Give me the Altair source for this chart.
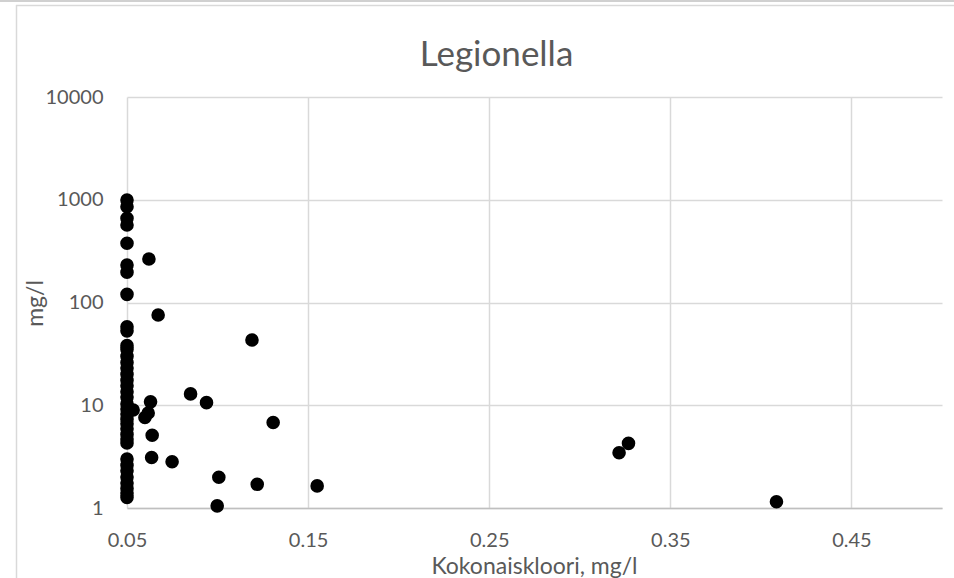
import altair as alt
import pandas as pd

# Total chlorine (mg/l) and Legionella (mg/l) for each sample
kokonaiskloori = [
    0.05, 0.05, 0.05, 0.05, 0.05, 0.05, 0.05, 0.05, 0.05, 0.05,
    0.05, 0.05, 0.05, 0.05, 0.05, 0.05, 0.05, 0.05, 0.05, 0.05,
    0.05, 0.05, 0.05, 0.05, 0.05, 0.05, 0.05, 0.05, 0.05, 0.05,
    0.05, 0.05, 0.05, 0.05, 0.05, 0.05, 0.05,
    0.0534, 0.0621, 0.0672, 0.119, 0.0851, 0.0939, 0.063, 0.0599,
    0.0617, 0.1307, 0.0639, 0.0636, 0.0749, 0.1007, 0.1219, 0.0998,
    0.155, 0.3217, 0.3269, 0.4086,
]
legionella = [
    995, 856, 660, 568, 377, 232, 197, 120, 58, 53,
    38, 35, 30, 26, 23, 20, 17.5, 15.5, 13.5, 12,
    10.3, 9.2, 8.2, 7.3, 6.6, 5.9, 5.2, 4.7, 4.3, 3.0,
    2.6, 2.3, 2.0, 1.75, 1.55, 1.4, 1.27,
    9.0, 265, 75.5, 43.2, 12.9, 10.6, 10.8, 7.6,
    8.4, 6.8, 5.1, 3.1, 2.82, 1.99, 1.7, 1.05,
    1.64, 3.45, 4.26, 1.15,
]

x_ticks = [0.05, 0.15, 0.25, 0.35, 0.45]
y_ticks = [1, 10, 100, 1000, 10000]

FONT = "Lato"
TEXT = "#595959"
GRID = "#d9d9d9"

df = pd.DataFrame({"kloori": kokonaiskloori, "legionella": legionella})

points = alt.Chart(df).mark_circle(size=185, color="black", opacity=1).encode(
    x=alt.X(
        "kloori:Q",
        scale=alt.Scale(domain=[0.05, 0.5], nice=False, zero=False),
        axis=alt.Axis(
            values=x_ticks,
            format=".2f",
            title="Kokonaiskloori, mg/l",
            titleFont=FONT,
            titleFontSize=23,
            titleFontWeight="normal",
            titleColor=TEXT,
            titleX=407,
            titleY=58,
            titleBaseline="middle",
            titleAlign="center",
            labelFont=FONT,
            labelFontSize=20,
            labelColor=TEXT,
            labelPadding=22,
            labelFlush=False,
            ticks=False,
            tickSize=0,
            domainColor="#bfbfbf",
            domainWidth=1.5,
            gridColor=GRID,
            gridWidth=1.5,
        ),
    ),
    y=alt.Y(
        "legionella:Q",
        scale=alt.Scale(type="log", domain=[1, 10000], nice=False),
        axis=alt.Axis(
            values=y_ticks,
            format="d",
            title="mg/l",
            titleFont=FONT,
            titleFontSize=23,
            titleFontWeight="normal",
            titleColor=TEXT,
            titleAngle=-90,
            titleX=-92,
            titleY=206,
            titleBaseline="middle",
            titleAlign="center",
            labelFont=FONT,
            labelFontSize=20,
            labelColor=TEXT,
            labelPadding=24,
            labelFlush=False,
            ticks=False,
            tickSize=0,
            domain=False,
            gridColor=GRID,
            gridWidth=1.5,
        ),
    ),
)

# Chart-area frame lines around the plot
frame_top = alt.Chart().mark_rule(color=GRID, strokeWidth=1.5).encode(
    x=alt.value(-111), x2=alt.value(840), y=alt.value(-91.5)
)
frame_left = alt.Chart().mark_rule(color=GRID, strokeWidth=1.5).encode(
    x=alt.value(-110.5), y=alt.value(-92), y2=alt.value(490)
)
band_top = alt.Chart().mark_rule(color="#d0d0d0", strokeWidth=2).encode(
    x=alt.value(-127), x2=alt.value(840), y=alt.value(-96)
)

chart = (
    alt.layer(band_top, frame_top, frame_left, points)
    .properties(
        width=815,
        height=411,
        autosize=alt.AutoSizeParams(type="none"),
        padding={"left": 127, "top": 97, "right": 12, "bottom": 70},
        background="white",
        title=alt.TitleParams(
            text="Legionella",
            font=FONT,
            fontSize=35,
            fontWeight="normal",
            color=TEXT,
            anchor="middle",
            baseline="alphabetic",
            dx=-38,
            dy=101,
            offset=0,
        ),
    )
    .configure_view(strokeWidth=0)
)

chart.save("out.html", embed_options={"renderer": "svg", "actions": False})
